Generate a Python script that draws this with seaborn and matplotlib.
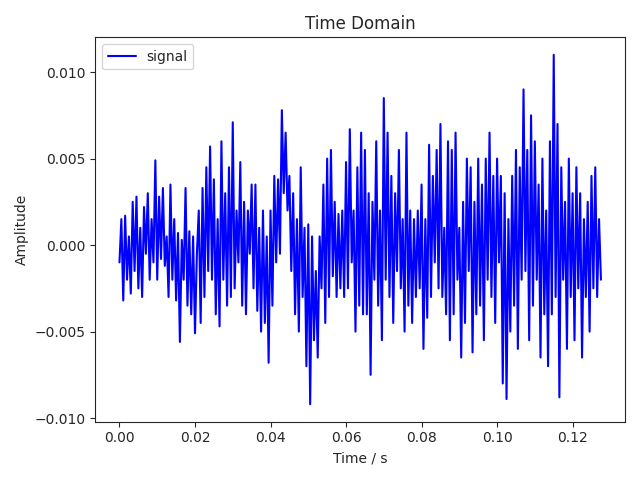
import numpy as np
import matplotlib
matplotlib.use("Agg")
import matplotlib.pyplot as plt
from matplotlib.ticker import MultipleLocator
import seaborn as sns

signal_milli = [
    -1.0, 1.5, -3.2, 1.7, -2.0, 0.5, -2.8, 2.5, -1.5, 2.8, -2.5, 1.0, -3.0, 2.2, -0.5, 3.0,
    -2.0, 1.5, -1.0, 4.9, -2.0, 2.8, -0.8, 3.3, -1.2, 0.5, -3.0, 3.5, -2.0, 1.5, -3.2, 0.7,
    -5.6, 0.3, -2.0, 3.3, -3.5, 0.8, -4.0, 0.5, -5.1, -0.5, 2.0, -4.5, 3.3, -3.0, 4.5, -1.5,
    5.7, -2.0, 3.8, -4.0, 1.5, -4.7, 6.0, -2.0, 3.0, -3.5, 4.5, -3.0, 7.1, -2.5, 2.0, -1.0,
    4.8, -3.5, 2.5, -4.0, 2.0, -0.5, 3.5, -2.5, 3.5, -3.8, 1.0, -5.0, 2.0, -4.5, 0.5, -6.8,
    2.0, -3.5, 4.0, -1.0, 3.8, -0.5, 7.8, 3.0, 6.5, 2.0, 4.0, -1.5, 3.0, -4.0, 1.5, -5.0,
    4.5, -3.0, 1.0, -7.0, 1.2, -9.2, 0.5, -5.5, -1.5, -6.5, 0.5, -2.5, 3.5, -4.5, 5.0, -3.0,
    5.5, -1.8, 2.5, -3.0, 1.8, -2.5, 2.0, -3.0, 4.8, -2.5, 6.7, -1.0, 2.0, -5.0, 4.5, -3.5,
    6.5, -4.0, 5.5, -4.0, 3.0, -7.5, 2.5, -2.0, 6.0, -3.5, 2.0, -5.5, 8.5, -2.0, 6.5, -3.0,
    4.0, -4.5, 3.0, -1.5, 5.5, -2.5, 1.5, -5.0, 6.5, -3.5, 2.0, -4.5, 1.5, -3.0, 2.0, -2.5,
    3.5, -6.0, 1.5, -4.2, 5.8, -3.0, 4.0, -1.0, 5.5, -2.5, 7.0, -3.0, 1.0, -4.0, 6.0, -5.5,
    5.5, -4.0, 6.5, -2.0, 1.0, -6.5, 2.5, -4.5, 5.0, -1.5, 4.5, -6.2, 2.5, -4.0, 5.0, -3.5,
    3.5, -5.5, 5.0, -2.0, 6.5, -3.0, 4.0, -4.5, 5.0, -1.0, 4.0, -8.0, 3.0, -8.9, 1.5, -5.0,
    4.0, -3.5, 5.5, -6.0, 4.5, -2.0, 9.0, -1.5, 5.5, -5.5, 7.5, -3.5, 6.0, -2.0, 3.5, -6.5,
    5.0, -4.0, 2.0, -7.0, 6.0, -4.0, 11.0, -3.0, 7.0, -8.8, 4.5, -2.0, 2.5, -6.0, 5.0, -3.0,
    3.0, -5.5, 4.5, -2.5, 3.0, -6.5, 1.5, -3.0, 2.5, -5.0, 4.0, -2.5, 4.5, -3.0, 1.5, -2.0,
]

dt = 0.0005
time_s = np.arange(len(signal_milli)) * dt
amplitude = np.array(signal_milli) * 1e-3

sns.set_style("ticks")
plt.rcParams["font.family"] = ["DejaVu Sans"]
fig, ax = plt.subplots(figsize=(6.4, 4.8), dpi=100)
sns.lineplot(x=time_s, y=amplitude, color="blue", label="signal", ax=ax, linewidth=1.5)
ax.yaxis.set_major_locator(MultipleLocator(0.005))
ax.set_title("Time Domain")
ax.set_xlabel("Time / s")
ax.set_ylabel("Amplitude")
ax.legend(loc="upper left")
fig.tight_layout()
fig.savefig("out.png")
